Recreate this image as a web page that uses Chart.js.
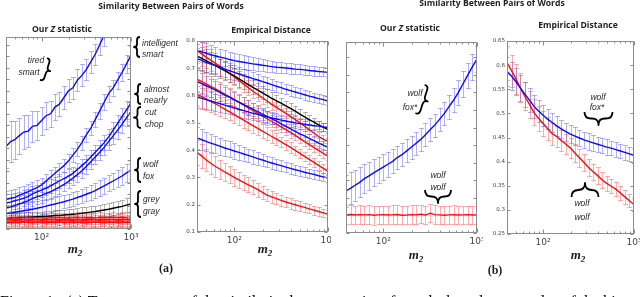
<!DOCTYPE html>
<html>
<head>
<meta charset="utf-8">
<script src="https://cdn.jsdelivr.net/npm/chart.js@4.4.1/dist/chart.umd.min.js"></script>
<style>
  html, body { margin: 0; padding: 0; background: #fff; }
  #fig { position: relative; width: 640px; height: 297px; overflow: hidden; }
  #fig canvas { position: absolute; top: 0; }
  .t { position: absolute; white-space: nowrap; line-height: 1; color: #1e1e1e; }
  .c { transform: translate(-50%, -50%); }
  .l { transform: translateY(-50%); }
  .title { font: 700 8.6px "Open Sans", "Liberation Sans", sans-serif; }
  .ann { font: italic 8.5px "Liberation Sans", sans-serif; color: #2a2a2a; }
  .m2 { font: italic 700 13px "Liberation Serif", serif; }
  .m2 sub { font-size: 9px; vertical-align: -3px; }
  .tag { font: 700 12px "Liberation Serif", serif; }
  .cap { font: 16px "Liberation Serif", serif; color: #000; }
</style>
</head>
<body>
<div id="fig">
  <canvas id="zA" width="145" height="297" style="left:0px"></canvas>
  <canvas id="dA" width="151" height="297" style="left:180px"></canvas>
  <canvas id="zB" width="148" height="297" style="left:335px"></canvas>
  <canvas id="dB" width="155" height="297" style="left:485px"></canvas>
  <canvas id="marks" width="640" height="297" style="left:0px"></canvas>

  <span class="t c title" style="left:171px;top:6px">Similarity Between Pairs of Words</span>
  <span class="t c title" style="left:492px;top:3px">Similarity Between Pairs of Words</span>
  <span class="t c title" style="left:62px;top:29px">Our <i>Z</i> statistic</span>
  <span class="t c title" style="left:271px;top:30px">Empirical Distance</span>
  <span class="t c title" style="left:410px;top:28px">Our <i>Z</i> statistic</span>
  <span class="t c title" style="left:578px;top:25px">Empirical Distance</span>

  <span class="t c ann" style="left:36px;top:60px">tired</span>
  <span class="t c ann" style="left:29px;top:72px">smart</span>
  <span class="t l ann" style="left:142px;top:43px">intelligent</span>
  <span class="t l ann" style="left:142px;top:54px">smart</span>
  <span class="t l ann" style="left:144px;top:89px">almost</span>
  <span class="t l ann" style="left:144px;top:100px">nearly</span>
  <span class="t l ann" style="left:145px;top:112px">cut</span>
  <span class="t l ann" style="left:145px;top:124px">chop</span>
  <span class="t l ann" style="left:143px;top:164px">wolf</span>
  <span class="t l ann" style="left:143px;top:176px">fox</span>
  <span class="t l ann" style="left:143px;top:199px">grey</span>
  <span class="t l ann" style="left:143px;top:211px">gray</span>

  <span class="t c ann" style="left:415px;top:93px">wolf</span>
  <span class="t c ann" style="left:410px;top:107px">fox*</span>
  <span class="t c ann" style="left:438px;top:175px">wolf</span>
  <span class="t c ann" style="left:438px;top:187px">wolf</span>
  <span class="t c ann" style="left:598px;top:97px">wolf</span>
  <span class="t c ann" style="left:597px;top:107px">fox*</span>
  <span class="t c ann" style="left:582px;top:203px">wolf</span>
  <span class="t c ann" style="left:582px;top:217px">wolf</span>

  <span class="t c m2" style="left:75px;top:249px">m<sub>2</sub></span>
  <span class="t c m2" style="left:265px;top:249px">m<sub>2</sub></span>
  <span class="t c m2" style="left:416px;top:255px">m<sub>2</sub></span>
  <span class="t c m2" style="left:578px;top:255px">m<sub>2</sub></span>
  <span class="t c tag" style="left:166px;top:268px">(a)</span>
  <span class="t c tag" style="left:495px;top:270px">(b)</span>
  <span class="t cap" style="left:0px;top:293px">Figure 1:&nbsp; (a) Two measures of the similarity between pairs of words, based on samples of the bi</span>
</div>

<script>
// sample sizes m2 (x values shared by every curve)
const m2 = [40, 45, 50, 56, 63, 71, 79, 89, 100, 112, 126, 141, 158, 178, 200, 224, 251, 282, 316, 355, 398, 447, 501, 562, 631, 708, 794, 891, 1000];
const xLabelTicks = [100, 1000];
const xFrameTicks = [50, 60, 70, 80, 90, 100, 200, 300, 400, 500, 600, 700, 800, 900, 1000];

// (a) Our Z statistic (no y labels in the figure, arbitrary units)
const zTired = [43, 45.5, 46.5, 48.5, 50.5, 51, 53.5, 54, 56.5, 59, 60, 63.5, 65, 68.5, 72, 73.5, 77.5, 80, 83, 87, 91, 96, 101, 106, 111, 117, 123, 129, 135];
const zIntel = [15.5, 16, 16.5, 17.5, 18.5, 19.5, 20.5, 21.5, 23, 25, 27, 29, 31, 33, 35.5, 38.5, 41.5, 45, 49, 52.5, 57, 61.5, 66, 70.5, 73.5, 77.5, 81.5, 86, 90.5];
const zAlmost = [13.5, 14, 14.7, 15.3, 16, 17, 18.3, 19.3, 20.3, 21.3, 22.4, 23.8, 25, 26.3, 27.5, 29, 31, 33, 35, 37.5, 40, 42.5, 45, 48, 51.5, 55, 58.5, 62, 65.5];
const zCut = [11, 11.5, 12.2, 13, 13.8, 14.8, 15.8, 16.7, 17.5, 18.5, 19.4, 20.6, 21.8, 23.2, 24.8, 26.5, 28.3, 30.3, 32.5, 35, 37.5, 40, 42.5, 45.5, 48.5, 51.5, 54.5, 58, 61];
const zWolf = [8, 8.3, 8.7, 9.1, 9.5, 9.9, 10.3, 10.8, 11.3, 11.9, 12.5, 13, 13.6, 14.2, 14.9, 15.6, 16.4, 17.2, 18.1, 19, 20, 21.3, 22.5, 23.8, 25, 26.3, 27.6, 29.2, 30.7];
const zGrey = [5.7, 5.8, 5.9, 6, 6.1, 6.2, 6.3, 6.4, 6.5, 6.6, 6.8, 7, 7.1, 7.3, 7.5, 7.7, 7.9, 8.2, 8.5, 8.8, 9.1, 9.5, 9.9, 10.3, 10.8, 11.3, 11.8, 12.4, 13];
const zSame1 = [5.8, 5.6, 5.9, 5.7, 5.8, 6.0, 5.7, 5.9, 5.8, 5.6, 5.9, 5.8, 6.0, 5.7, 5.9, 5.8, 6.1, 5.8, 5.9, 6.0, 5.8, 6.1, 5.9, 6.0, 6.2, 5.9, 6.1, 6.0, 6.2];
const zSame2 = [4.9, 5.0, 4.8, 5.0, 4.9, 4.7, 5.0, 4.9, 4.8, 5.1, 4.9, 5.0, 4.8, 4.9, 5.1, 4.9, 5.0, 4.8, 5.0, 5.1, 4.9, 5.0, 4.9, 5.1, 5.0, 4.9, 5.1, 5.0, 4.9];
const zSame3 = [4.2, 4.1, 4.3, 4.2, 4.0, 4.3, 4.2, 4.1, 4.3, 4.2, 4.1, 4.2, 4.4, 4.1, 4.2, 4.3, 4.1, 4.2, 4.3, 4.2, 4.1, 4.3, 4.2, 4.2, 4.1, 4.3, 4.2, 4.1, 4.2];
const zSame4 = [3.4, 3.5, 3.3, 3.4, 3.6, 3.4, 3.3, 3.5, 3.4, 3.3, 3.5, 3.4, 3.6, 3.4, 3.3, 3.5, 3.4, 3.5, 3.3, 3.4, 3.6, 3.4, 3.3, 3.5, 3.4, 3.4, 3.5, 3.3, 3.4];
const zErrTired = [11, 10.5, 10, 9.5, 9, 8.5, 8, 7.6, 7.3, 7, 6.8, 6.6, 6.4, 6.2, 6, 5.9, 5.8, 5.7, 5.6, 5.5, 5.5, 5.5, 5.5, 5.5, 5.5, 5.5, 5.5, 5.5, 5.5];
const zErrBlue = [4.5, 4.4, 4.3, 4.2, 4.1, 4, 3.9, 3.8, 3.7, 3.6, 3.6, 3.5, 3.5, 3.5, 3.5, 3.5, 3.6, 3.6, 3.7, 3.8, 3.9, 4, 4.1, 4.2, 4.3, 4.4, 4.5, 4.6, 4.7];
const zErrGrey = [2.4, 2.4, 2.4, 2.4, 2.5, 2.5, 2.5, 2.5, 2.6, 2.6, 2.6, 2.7, 2.7, 2.8, 2.8, 2.9, 2.9, 3, 3, 3.1, 3.1, 3.2, 3.2, 3.3, 3.3, 3.4, 3.4, 3.5, 3.6];
const zErrRed = [2.6, 2.5, 2.6, 2.5, 2.4, 2.6, 2.5, 2.5, 2.6, 2.4, 2.5, 2.6, 2.5, 2.5, 2.4, 2.6, 2.5, 2.5, 2.6, 2.5, 2.4, 2.5, 2.6, 2.5, 2.5, 2.6, 2.5, 2.4, 2.5];

// (a) Empirical distance
const dBlue1 = [.765, .760, .755, .750, .745, .741, .737, .732, .728, .725, .722, .719, .716, .714, .711, .709, .706, .704, .703, .701, .699, .697, .696, .694, .692, .690, .688, .687, .685];
const dBlue2 = [.735, .729, .722, .716, .710, .704, .697, .691, .685, .679, .673, .668, .662, .657, .651, .646, .640, .634, .629, .623, .618, .613, .608, .603, .598, .594, .589, .585, .580];
const dBlack = [.745, .736, .728, .719, .710, .700, .691, .681, .672, .661, .651, .640, .630, .620, .610, .600, .590, .581, .572, .562, .553, .543, .532, .522, .512, .503, .493, .484, .475];
const dRed1 = [.765, .753, .741, .730, .718, .706, .694, .681, .668, .655, .642, .629, .616, .604, .592, .580, .568, .557, .546, .535, .524, .512, .500, .488, .475, .463, .450, .440, .432];
const dRed2 = [.660, .651, .643, .634, .625, .615, .605, .595, .585, .575, .565, .555, .545, .535, .525, .515, .505, .495, .485, .475, .465, .454, .443, .431, .420, .409, .399, .388, .378];
const dBlue3 = [.652, .644, .636, .628, .620, .611, .602, .594, .585, .576, .567, .559, .550, .541, .532, .524, .515, .506, .496, .487, .478, .469, .460, .452, .443, .435, .426, .418, .410];
const dRed3 = [.605, .596, .588, .579, .570, .560, .550, .540, .530, .520, .510, .500, .490, .480, .470, .460, .450, .440, .430, .420, .410, .399, .388, .377, .366, .355, .344, .333, .322];
const dBlue4 = [.595, .590, .585, .580, .575, .570, .565, .560, .555, .550, .545, .540, .535, .531, .526, .522, .518, .514, .510, .507, .503, .500, .497, .495, .492, .490, .488, .485, .483];
const dBlue5 = [.445, .438, .432, .426, .420, .414, .408, .403, .397, .392, .386, .381, .375, .369, .364, .358, .353, .348, .343, .338, .333, .328, .324, .319, .315, .311, .306, .302, .298];
const dRed4 = [.392, .378, .365, .352, .340, .330, .320, .310, .300, .291, .282, .273, .265, .255, .245, .235, .229, .222, .216, .210, .205, .200, .195, .190, .185, .180, .175, .170, .165];
const dErrBlue = [.04, .038, .036, .034, .032, .031, .03, .029, .028, .027, .026, .025, .024, .023, .022, .021, .021, .02, .02, .019, .019, .018, .018, .018, .017, .017, .017, .016, .016];
const dErrRed = [.045, .043, .041, .039, .037, .035, .033, .031, .03, .029, .028, .027, .026, .025, .024, .023, .022, .021, .02, .019, .019, .018, .017, .017, .016, .016, .015, .015, .014];

// (b) wolf vs fox* / wolf vs wolf
const bzFox = [22, 23.5, 25, 26.5, 28.5, 30, 31.5, 33, 34.5, 36, 37.5, 39.5, 41, 43, 45, 47, 49, 51.5, 54, 56.5, 59.5, 62.5, 66, 69.5, 73.5, 78, 82.5, 87, 91];
const bzWolf = [9.5, 9.7, 9.4, 9.6, 9.5, 9.6, 9.3, 9.5, 9.6, 9.4, 9.5, 9.7, 9.3, 9.4, 9.6, 9.5, 9.8, 9.4, 10.4, 9.6, 9.5, 9.3, 9.5, 9.6, 9.4, 9.5, 9.6, 9.4, 9.5];
const bzErrFox = [8.5, 8.3, 8, 7.8, 7.5, 7.3, 7, 6.8, 6.6, 6.5, 6.3, 6.2, 6.1, 6, 6, 6, 6, 6, 6, 6, 6.1, 6.2, 6.3, 6.4, 6.5, 6.6, 6.7, 6.8, 6.9];
const bzErrWolf = [5, 4.9, 4.8, 4.9, 4.8, 4.8, 4.9, 4.8, 4.7, 4.8, 4.9, 4.8, 4.8, 4.7, 4.8, 4.9, 4.8, 4.8, 4.9, 4.8, 4.7, 4.8, 4.8, 4.9, 4.8, 4.8, 4.7, 4.8, 4.8];
const bdFox = [.587, .577, .566, .553, .540, .527, .515, .505, .496, .488, .481, .474, .468, .462, .457, .453, .449, .445, .442, .439, .436, .433, .430, .428, .425, .422, .419, .416, .413];
const bdWolf = [.605, .588, .572, .553, .535, .518, .502, .490, .479, .468, .458, .452, .444, .436, .428, .418, .408, .398, .388, .379, .371, .362, .355, .349, .343, .335, .327, .319, .311];
const bdErrFox = [.03, .029, .028, .027, .026, .025, .024, .023, .022, .021, .02, .02, .019, .019, .018, .018, .017, .017, .017, .016, .016, .016, .016, .015, .015, .015, .015, .015, .015];
const bdErrWolf = [.035, .033, .031, .03, .029, .028, .027, .026, .025, .024, .023, .022, .021, .021, .02, .019, .019, .018, .018, .017, .017, .016, .016, .015, .015, .014, .014, .013, .013];

const BLUE = "#0a0aff", RED = "#ff0a0a", BLACK = "#000";
const BLUE_BAR = "rgba(70,70,255,0.42)", RED_BAR = "rgba(255,60,60,0.42)", GREY_BAR = "rgba(80,80,80,0.42)";

Chart.defaults.font.family = "DejaVu Sans";

/* error bars drawn under the lines, from each dataset's err list */
const errorBars = {
  id: "errorBars",
  beforeDatasetsDraw(chart) {
    const { ctx, chartArea: a, scales } = chart;
    const x = scales.x, y = scales.y;
    ctx.save();
    ctx.beginPath();
    ctx.rect(a.left, a.top, a.right - a.left, a.bottom - a.top);
    ctx.clip();
    ctx.lineWidth = 1;
    chart.data.datasets.forEach(ds => {
      if (!ds.err) return;
      ctx.strokeStyle = ds.errColor;
      ds.data.forEach((p, i) => {
        const px = Math.round(x.getPixelForValue(p.x)) + 0.5;
        const y1 = Math.round(y.getPixelForValue(p.y - ds.err[i])) + 0.5;
        const y2 = Math.round(y.getPixelForValue(p.y + ds.err[i])) + 0.5;
        ctx.beginPath();
        ctx.moveTo(px, y1); ctx.lineTo(px, y2);
        ctx.moveTo(px - 2.5, y1); ctx.lineTo(px + 2.5, y1);
        ctx.moveTo(px - 2.5, y2); ctx.lineTo(px + 2.5, y2);
        ctx.stroke();
      });
    });
    ctx.restore();
  }
};

/* mathematica-like frame with inner ticks */
const frame = {
  id: "frame",
  afterDraw(chart, args, opts) {
    const { ctx, chartArea: a, scales } = chart;
    const x = scales.x, y = scales.y;
    const L = Math.round(a.left) + 0.5, R = Math.round(a.right) - 0.5;
    const T = Math.round(a.top) + 0.5, B = Math.round(a.bottom) - 0.5;
    ctx.save();
    ctx.strokeStyle = "#8c8c8c";
    ctx.lineWidth = 1;
    ctx.strokeRect(L, T, R - L, B - T);
    ctx.beginPath();
    xFrameTicks.forEach(v => {
      const px = Math.round(x.getPixelForValue(v)) + 0.5;
      const len = (v === 100 || v === 1000) ? 4 : 2;
      ctx.moveTo(px, B); ctx.lineTo(px, B - len);
      ctx.moveTo(px, T); ctx.lineTo(px, T + len);
    });
    for (let v = y.min; v <= y.max + 1e-9; v += opts.yStep) {
      const py = Math.round(y.getPixelForValue(v)) + 0.5;
      ctx.moveTo(L, py); ctx.lineTo(L + 3, py);
      ctx.moveTo(R, py); ctx.lineTo(R - 3, py);
    }
    ctx.stroke();
    ctx.restore();
  }
};

function series(vals, err, color, barColor) {
  return {
    data: m2.map((m, i) => ({ x: m, y: vals[i] })),
    err: err,
    errColor: barColor,
    borderColor: color,
    borderWidth: 1.4,
    pointRadius: 0,
    tension: 0,
    fill: false
  };
}

function xAxis() {
  return {
    type: "logarithmic",
    min: 40,
    max: 1000,
    grid: { display: false, drawTicks: false },
    border: { display: false },
    ticks: {
      color: "#444",
      font: { size: 9 },
      padding: 3,
      maxRotation: 0,
      autoSkip: false,
      callback: v => (v === 100 ? "10\u00b2" : v === 1000 ? "10\u00b3" : "")
    },
    afterBuildTicks: s => { s.ticks = xLabelTicks.map(v => ({ value: v })); },
    afterFit: s => { s.height = 16; s.paddingLeft = 0; s.paddingRight = 0; }
  };
}

function yAxis(min, max, step, width) {
  if (!width) return { display: false, min: min, max: max };
  return {
    min: min,
    max: max,
    grid: { display: false, drawTicks: false },
    border: { display: false },
    ticks: {
      stepSize: step,
      color: "#444",
      font: { size: 5.5 },
      padding: 2,
      callback: v => String(+v.toFixed(2))
    },
    afterFit: s => { s.width = width; s.paddingTop = 0; s.paddingBottom = 0; }
  };
}

function makeChart(id, datasets, padding, y, yStep) {
  return new Chart(document.getElementById(id), {
    type: "line",
    data: { datasets },
    options: {
      responsive: false,
      animation: false,
      devicePixelRatio: 1,
      layout: { padding },
      plugins: { legend: { display: false }, tooltip: { enabled: false }, frame: { yStep } },
      scales: { x: xAxis(), y }
    },
    plugins: [errorBars, frame]
  });
}

makeChart("zA", [
  series(zSame1, zErrRed, RED, RED_BAR),
  series(zSame2, zErrRed, RED, RED_BAR),
  series(zSame3, zErrRed, RED, RED_BAR),
  series(zSame4, zErrRed, RED, RED_BAR),
  series(zGrey, zErrGrey, BLACK, GREY_BAR),
  series(zWolf, zErrBlue, BLUE, BLUE_BAR),
  series(zCut, zErrBlue, BLUE, BLUE_BAR),
  series(zAlmost, zErrBlue, BLUE, BLUE_BAR),
  series(zIntel, zErrBlue, BLUE, BLUE_BAR),
  series(zTired, zErrTired, BLUE, BLUE_BAR)
], { left: 6, right: 14, top: 37, bottom: 52 }, yAxis(0, 100), 6);

makeChart("dA", [
  series(dBlue1, dErrBlue, BLUE, BLUE_BAR),
  series(dBlue2, dErrBlue, BLUE, BLUE_BAR),
  series(dBlue3, dErrBlue, BLUE, BLUE_BAR),
  series(dBlue4, dErrBlue, BLUE, BLUE_BAR),
  series(dBlue5, dErrBlue, BLUE, BLUE_BAR),
  series(dBlack, dErrRed, BLACK, GREY_BAR),
  series(dRed1, dErrRed, RED, RED_BAR),
  series(dRed2, dErrRed, RED, RED_BAR),
  series(dRed3, dErrRed, RED, RED_BAR),
  series(dRed4, dErrRed, RED, RED_BAR)
], { left: 3, right: 3, top: 41, bottom: 49 }, yAxis(0.1, 0.8, 0.1, 14), 0.1);

makeChart("zB", [
  series(bzWolf, bzErrWolf, RED, RED_BAR),
  series(bzFox, bzErrFox, BLUE, BLUE_BAR)
], { left: 11, right: 6, top: 42, bottom: 48 }, yAxis(0, 100), 9.2);

makeChart("dB", [
  series(bdFox, bdErrFox, BLUE, BLUE_BAR),
  series(bdWolf, bdErrWolf, RED, RED_BAR)
], { left: 6, right: 6, top: 41, bottom: 47 }, yAxis(0.25, 0.65, 0.05, 16), 0.05);

/* curly braces next to the word pairs */
const braces = [
  // cx, cy, length, depth, angle (0 = tip down)
  [43.5, 69, 23, 7, -72],
  [140, 47, 20, 6, 90],
  [141, 94, 20, 6, 90],
  [141, 117.5, 21, 7, 90],
  [141, 170, 24, 6, 90],
  [141, 204, 26, 6, 90],
  [420, 99, 30, 8, -72],
  [438, 190, 26, 13, 0],
  [598.5, 112, 28, 13, 0],
  [585, 197, 27, 14, 180]
];

function brace(ctx, cx, cy, len, depth, ang) {
  const h = len / 2, d = depth, m = d / 2;
  ctx.save();
  ctx.translate(cx, cy);
  ctx.rotate(ang * Math.PI / 180);
  ctx.beginPath();
  ctx.moveTo(-h, 0);
  ctx.quadraticCurveTo(-h, m, -h + m, m);
  ctx.lineTo(-m, m);
  ctx.quadraticCurveTo(0, m, 0, d);
  ctx.quadraticCurveTo(0, m, m, m);
  ctx.lineTo(h - m, m);
  ctx.quadraticCurveTo(h, m, h, 0);
  ctx.stroke();
  ctx.restore();
}

const mctx = document.getElementById("marks").getContext("2d");
mctx.strokeStyle = "#000";
mctx.lineWidth = 1.8;
mctx.lineJoin = "round";
braces.forEach(b => brace(mctx, ...b));
</script>
</body>
</html>
